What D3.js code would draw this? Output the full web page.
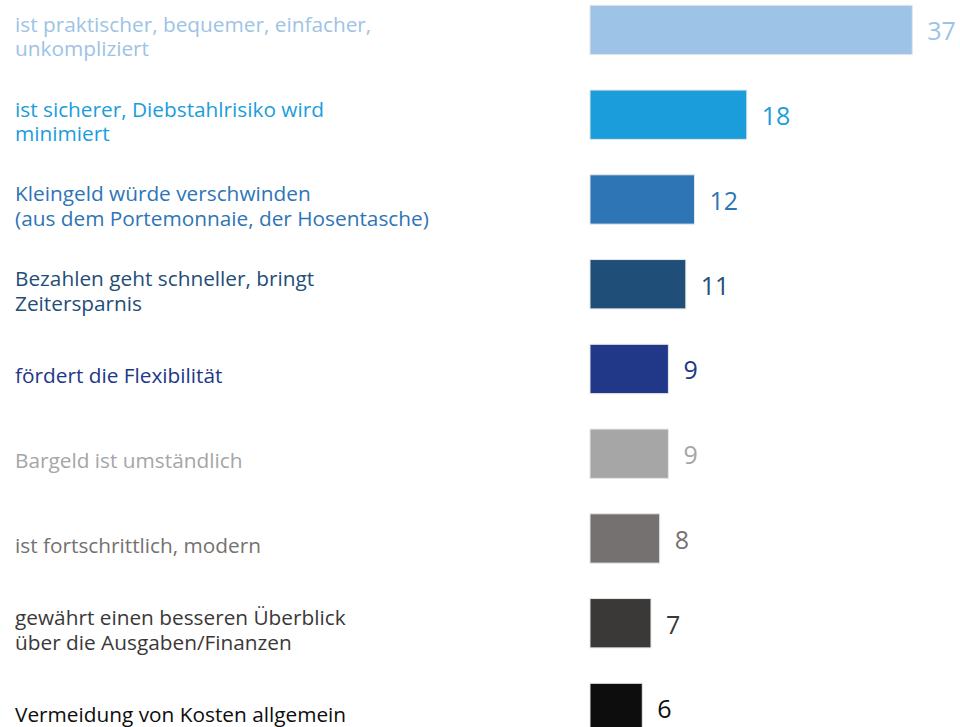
<!DOCTYPE html>
<html>
<head>
<meta charset="utf-8">
<script src="https://cdn.jsdelivr.net/npm/d3@7"></script>
<style>
  html, body { margin: 0; padding: 0; background: #ffffff; }
  svg { display: block; }
</style>
</head>
<body>
<svg id="chart" width="960" height="727"></svg>
<script>
const categories = [
  "ist praktischer, bequemer, einfacher,\nunkompliziert",
  "ist sicherer, Diebstahlrisiko wird\nminimiert",
  "Kleingeld würde verschwinden\n(aus dem Portemonnaie, der Hosentasche)",
  "Bezahlen geht schneller, bringt\nZeitersparnis",
  "fördert die Flexibilität",
  "Bargeld ist umständlich",
  "ist fortschrittlich, modern",
  "gewährt einen besseren Überblick\nüber die Ausgaben/Finanzen",
  "Vermeidung von Kosten allgemein"
];
const values = [37, 18, 12, 11, 9, 9, 8, 7, 6];
const colors = ["#9DC3E6", "#1B9DDB", "#2E75B6", "#1F4E79", "#203887", "#A6A6A6", "#767171", "#3B3838", "#0D0D0D"];

const svg = d3.select("#chart");
const n = categories.length;
const step = 84.75;
const pad = 0.418;

const y = d3.scaleBand()
  .domain(d3.range(n))
  .range([5.3 - step * pad / 2, 5.3 - step * pad / 2 + step * n])
  .paddingInner(pad)
  .paddingOuter(pad / 2);

const x = d3.scaleLinear().domain([0, 37]).range([590, 912.3]);

const font = "'Open Sans', 'Noto Sans', sans-serif";

// bars
svg.append("g").selectAll("rect")
  .data(values)
  .join("rect")
  .attr("x", x(0))
  .attr("y", (d, i) => y(i))
  .attr("width", d => x(d) - x(0))
  .attr("height", y.bandwidth())
  .attr("fill", (d, i) => colors[i])
  .attr("stroke", "#e6e6e6")
  .attr("stroke-width", 1);

// value labels
svg.append("g").selectAll("text")
  .data(values)
  .join("text")
  .attr("x", d => x(d) + 15)
  .attr("y", (d, i) => y(i) + y.bandwidth() / 2 + 10.5)
  .attr("fill", (d, i) => colors[i])
  .attr("font-family", font)
  .attr("font-size", 25)
  .text(d => d);

// category labels
const lab = svg.append("g").selectAll("text")
  .data(categories)
  .join("text")
  .attr("font-family", font)
  .attr("font-size", 20.8)
  .attr("fill", (d, i) => colors[i]);

lab.each(function(d, i) {
  const lines = d.split("\n");
  const c = y(i) + y.bandwidth() / 2;
  const first = c + 14.5 - (lines.length - 1) * 12.5;
  d3.select(this).selectAll("tspan")
    .data(lines)
    .join("tspan")
    .attr("x", 15)
    .attr("y", (l, k) => first + k * 24.3)
    .text(l => l);
});
</script>
</body>
</html>
